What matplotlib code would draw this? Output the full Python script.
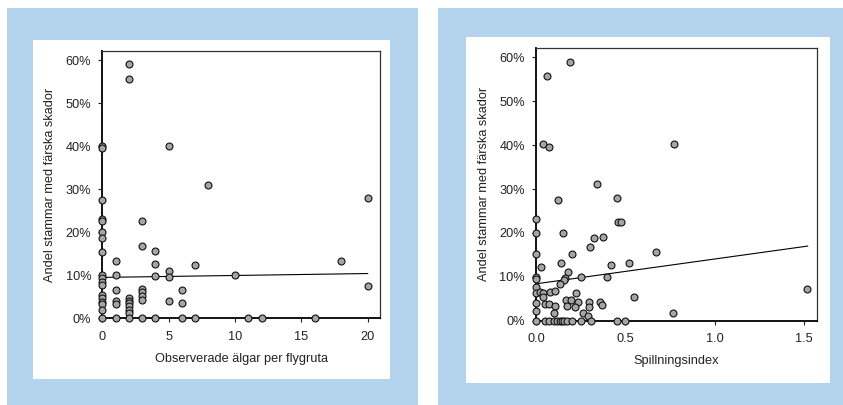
import matplotlib.pyplot as plt
from matplotlib.patches import Rectangle
from matplotlib.ticker import PercentFormatter, FormatStrFormatter

# vanstra diagrammet: observerade algar per flygruta
algar_x = [0, 0, 0, 0, 0, 0, 0, 0, 0, 0, 0, 0, 0, 0, 0, 0, 0, 0,
           1, 1, 1, 1, 1, 1,
           2, 2, 2, 2, 2, 2, 2, 2, 2,
           3, 3, 3, 3, 3, 3, 3,
           4, 4, 4, 4,
           5, 5, 5, 5,
           6, 6, 6,
           7, 7,
           8, 10, 11, 12, 16, 18, 20, 20]
algar_y = [40.1, 39.5, 27.5, 23.1, 22.6, 20.1, 18.7, 15.3, 10.1, 9.4, 8.4, 7.7, 5.5, 4.7, 3.9, 3.4, 1.9, 0,
           13.2, 10.1, 6.5, 4.1, 3.3, 0,
           59.0, 55.7, 4.8, 4.1, 3.5, 2.8, 1.9, 1.2, 0,
           22.6, 16.7, 6.8, 6.0, 5.2, 4.3, 0,
           15.6, 12.6, 9.9, 0,
           40.1, 11.1, 9.6, 4.1,
           6.6, 3.5, 0,
           12.4, 0,
           30.9, 10.0, 0, 0, 0, 13.2, 27.9, 7.4]
algar_trend_x = [0, 20]
algar_trend_y = [9.5, 10.4]

# hogra diagrammet: spillningsindex
spill_x = [0.189, 0.062, 0.038, 0.075, 0.774, 0.343, 0.451, 0.121, 0, 0.457, 0.475,
           0, 0.151, 0.325, 0.375, 0.302, 0.670, 0, 0.204, 0.026, 0.142, 0.420,
           0.520, 0.177, 0.249, 0.396, 0, 0, 0.164, 0.157, 0.132, 1.517, 0,
           0, 0.025, 0.040, 0.080, 0.105, 0.039, 0.226, 0.547,
           0, 0.052, 0.071, 0.105, 0.170, 0.198, 0.175, 0.235, 0.216,
           0.297, 0.297, 0.356, 0.371, 0, 0.100, 0.263, 0.291, 0.764,
           0, 0.050, 0.075, 0.098, 0.120, 0.132, 0.145, 0.157, 0.175, 0.200,
           0.249, 0.310, 0.451, 0.498]
spill_y = [59.0, 55.8, 40.2, 39.6, 40.2, 31.1, 27.9, 27.4, 23.2, 22.6, 22.6,
           20.0, 20.0, 18.8, 19.0, 16.9, 15.6, 15.2, 15.2, 12.3, 13.1, 12.7,
           13.1, 11.0, 9.9, 9.9, 10.0, 9.5, 9.8, 9.3, 8.4, 7.3, 7.6,
           6.3, 6.5, 6.2, 6.5, 6.7, 5.5, 6.4, 5.4,
           4.0, 3.9, 3.9, 3.4, 4.8, 4.8, 3.4, 4.2, 3.1,
           4.2, 3.1, 4.2, 3.5, 2.1, 1.8, 1.7, 1.1, 1.8,
           0, 0, 0, 0, 0, 0, 0, 0, 0, 0,
           0, 0, 0, 0]
spill_trend_x = [0, 1.52]
spill_trend_y = [8.4, 17.0]

ylabel = "Andel stammar med färska skador"

plt.rcParams["font.family"] = ["Liberation Sans", "DejaVu Sans"]
plt.rcParams["font.size"] = 9.2
textfarg = "#222222"

fig = plt.figure(figsize=(8.43, 4.05), dpi=100)
W, H = 843.0, 405.0


def ruta(x0, y0, x1, y1, farg):
    # rektangel i pixelkoordinater (y fran toppen)
    fig.patches.append(Rectangle((x0 / W, 1 - y1 / H), (x1 - x0) / W, (y1 - y0) / H,
                                 transform=fig.transFigure, facecolor=farg,
                                 edgecolor="none", zorder=-10))


bla = "#b4d4ee"
ruta(7, 8, 418, 405, bla)
ruta(438, 8, 843, 405, bla)
ruta(33, 40, 390, 379, "white")
ruta(466, 37, 830, 383, "white")


def panel(pos, x, y, tx, ty, xlim, ylim, xticks, xfmt, xlabel, ylab_pad):
    ax = fig.add_axes(pos)
    ax.set_facecolor("none")
    yv = [v / 100 for v in y]
    ax.scatter(x, yv, s=25, facecolor="#a5a5a5", edgecolor="#111111",
               linewidth=0.8, zorder=3, clip_on=False)
    ax.plot(tx, [v / 100 for v in ty], color="black", lw=0.8, zorder=2)
    ax.set_xlim(*xlim)
    ax.set_ylim(*ylim)
    ax.set_xticks(xticks)
    ax.xaxis.set_major_formatter(FormatStrFormatter(xfmt))
    ax.set_yticks([0, 0.1, 0.2, 0.3, 0.4, 0.5, 0.6])
    ax.yaxis.set_major_formatter(PercentFormatter(1.0, decimals=0))
    ax.tick_params(direction="out", length=3, width=0.8, colors=textfarg,
                   labelsize=9.2)
    ax.tick_params(axis="y", pad=5)
    ax.tick_params(axis="x", pad=6)
    for s in ["left", "bottom"]:
        ax.spines[s].set_linewidth(1.3)
    for s in ["top", "right"]:
        ax.spines[s].set_linewidth(0.9)
        ax.spines[s].set_color("#333333")
    ax.set_xlabel(xlabel, color=textfarg, labelpad=7)
    ax.set_ylabel(ylabel, color=textfarg, labelpad=ylab_pad)
    return ax


panel([102.3 / W, 1 - 318.3 / H, 277.7 / W, 267.3 / H],
      algar_x, algar_y, algar_trend_x, algar_trend_y,
      (0, 20.93), (0, 0.621), [0, 5, 10, 15, 20], "%d",
      "Observerade älgar per flygruta", 7)

panel([536 / W, 1 - 320.7 / H, 281.3 / W, 273 / H],
      spill_x, spill_y, spill_trend_x, spill_trend_y,
      (0, 1.574), (0, 0.622), [0.0, 0.5, 1.0, 1.5], "%.1f",
      "Spillningsindex", 7)

fig.savefig("out.png", dpi=100)
